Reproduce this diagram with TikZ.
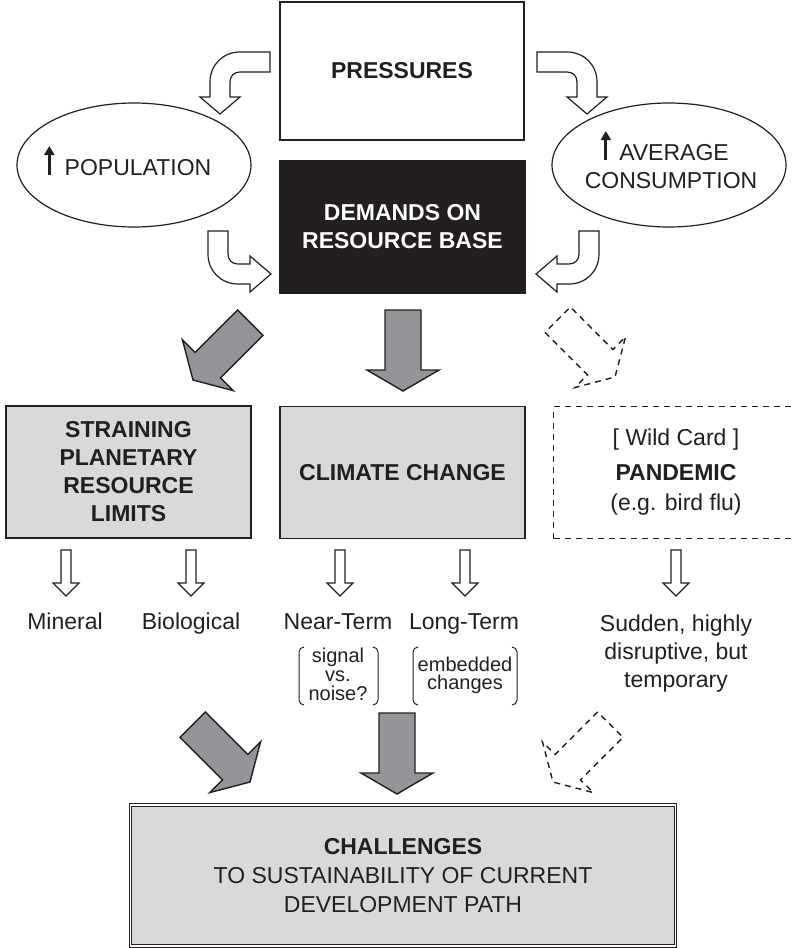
\documentclass[tikz,border=0pt]{standalone}
\usepackage{fontspec}
\setmainfont{Liberation Sans}
\usetikzlibrary{arrows.meta}
\definecolor{ink}{HTML}{231F20}
\definecolor{boxgray}{HTML}{D8D9DA}
\definecolor{arrowgray}{HTML}{939598}
\tikzset{
  every node/.style={text=ink, font=\fontsize{11.5}{14}\selectfont},
  box/.style={draw=ink, line width=0.75pt, inner sep=0pt, align=center,
    minimum width=122.5pt, minimum height=66pt,
    font=\fontsize{11.5}{14}\selectfont\bfseries},
  wilddash/.style={line width=0.6pt, dash pattern=on 3pt off 2.5pt},
  ell/.style={draw=ink, line width=0.6pt},
  bent/.style={draw=ink, line width=0.6pt, fill=white},
  termtxt/.style={anchor=base, inner sep=0pt},
  smalltxt/.style={align=center, inner sep=0pt, font=\fontsize{10}{9.5}\selectfont},
  brk/.style={draw=ink, line width=0.5pt, rounded corners=2.5pt},
  upmark/.style={draw=ink, line width=1.5pt, -{Triangle[length=4.5pt,width=5pt]}},
  hollowdown/.pic={
    \filldraw[draw=ink, fill=white, line width=0.6pt]
      (-5,-46) -- (-5,-13) -- (-13,-13) -- (0,0) -- (13,-13) -- (5,-13) -- (5,-46) -- cycle;
  },
  blockarrow/.pic={
    \filldraw[line width=0.7pt]
      (-18,-81) -- (-18,-21) -- (-36,-21) -- (0,0) -- (36,-21) -- (18,-21) -- (18,-81) -- cycle;
  },
}
\begin{document}
\begin{tikzpicture}[x=0.5pt, y=-0.5pt]
\useasboundingbox (0,0) rectangle (793,948);
% top row
\node[box, minimum width=122pt, minimum height=69pt] (press) at (402,71) {PRESSURES};
\node[box, fill=ink, text=white] (demand) at (402.5,227) {DEMANDS ON\\RESOURCE BASE};
\draw[ell] (134,165) ellipse [x radius=117, y radius=62];
\draw[ell] (669,165) ellipse [x radius=117, y radius=62];
\node[termtxt] (pop) at (128,175) {\hspace*{10pt}POPULATION};
\node[termtxt] (avg) at (665,160) {\hspace*{9pt}AVERAGE};
\node[termtxt] (cons) at (671,188) {CONSUMPTION};
\draw[upmark] ([xshift=2.5pt]pop.base west) -- ++(0,-29);
\draw[upmark] ([xshift=2.5pt]avg.base west) -- ++(0,-29);
% bent hollow arrows, left side then mirrored
\begin{scope}
  \draw[bent] (270,52) -- (240,52) .. controls (223,52) and (210,65) .. (210,82)
    -- (210,97) -- (200,97) -- (220,114) -- (240,97) -- (230,97) -- (230,82)
    .. controls (230,76) and (234,72) .. (240,72) -- (270,72) -- cycle;
  \draw[bent] (208,231) -- (208,254) .. controls (208,271) and (221,284) .. (238,284)
    -- (250,284) -- (250,292) -- (271,274) -- (250,256) -- (250,264) -- (238,264)
    .. controls (232,264) and (228,260) .. (228,254) -- (228,231) -- cycle;
\end{scope}
\begin{scope}[shift={(807,0)}, xscale=-1]
  \draw[bent] (270,52) -- (240,52) .. controls (223,52) and (210,65) .. (210,82)
    -- (210,97) -- (200,97) -- (220,114) -- (240,97) -- (230,97) -- (230,82)
    .. controls (230,76) and (234,72) .. (240,72) -- (270,72) -- cycle;
  \draw[bent] (208,231) -- (208,254) .. controls (208,271) and (221,284) .. (238,284)
    -- (250,284) -- (250,292) -- (271,274) -- (250,256) -- (250,264) -- (238,264)
    .. controls (232,264) and (228,260) .. (228,254) -- (228,231) -- cycle;
\end{scope}
% block arrows from the demands box
\pic[draw=ink, fill=arrowgray, rotate=-45] at (193,380) {blockarrow};
\pic[draw=ink, fill=arrowgray] at (403,391) {blockarrow};
\pic[draw=ink, fill=white, wilddash, rotate=45] at (615,377) {blockarrow};
% middle row
\node[box, fill=boxgray] (strain) at (128.5,472) {STRAINING\\PLANETARY\\RESOURCE\\LIMITS};
\node[box, fill=boxgray] (climate) at (402.5,472.5) {CLIMATE CHANGE};
\node[box, wilddash, font=\fontsize{11.5}{14}\selectfont] (pandemic) at (676,472.5)
  {[ Wild Card ]\\[3.5pt]\textbf{PANDEMIC}\\[1pt](e.g. bird flu)};
\pic at (66,596) {hollowdown};
\pic at (191,596) {hollowdown};
\pic at (340,596) {hollowdown};
\pic at (465,596) {hollowdown};
\pic at (676,596) {hollowdown};
\node[termtxt] (mineral) at (65,629) {Mineral};
\node[termtxt] (biol) at (191,629) {Biological};
\node[termtxt] (near) at (338,629) {Near-Term};
\node[termtxt] (long) at (464,629) {Long-Term};
\node[align=center] (sudden) at (676,654) {Sudden, highly\\disruptive, but\\temporary};
\node[smalltxt] (signal) at (338,674.5) {signal\\vs.\\noise?};
\node[smalltxt, font=\fontsize{10}{9}\selectfont] (embed) at (465,675.5) {embedded\\changes};
\draw[brk] (304,647) -- (299,647) -- (299,705) -- (304,705);
\draw[brk] (373,647) -- (378,647) -- (378,705) -- (373,705);
\draw[brk] (418,647) -- (413,647) -- (413,705) -- (418,705);
\draw[brk] (512,647) -- (517,647) -- (517,705) -- (512,705);
% block arrows into the challenges box
\pic[draw=ink, fill=arrowgray, rotate=45] at (250,782) {blockarrow};
\pic[draw=ink, fill=arrowgray] at (397,794) {blockarrow};
\pic[draw=ink, fill=white, wilddash, rotate=-45] at (553,782) {blockarrow};
% bottom
\node[box, fill=boxgray, double=white, double distance=0.6pt, line width=0.55pt,
  minimum width=272.5pt, minimum height=70.5pt, font=\fontsize{11.5}{14.5}\selectfont]
  (challenge) at (403,875.5)
  {\textbf{CHALLENGES}\\TO SUSTAINABILITY OF CURRENT\\DEVELOPMENT PATH};
\end{tikzpicture}
\end{document}
